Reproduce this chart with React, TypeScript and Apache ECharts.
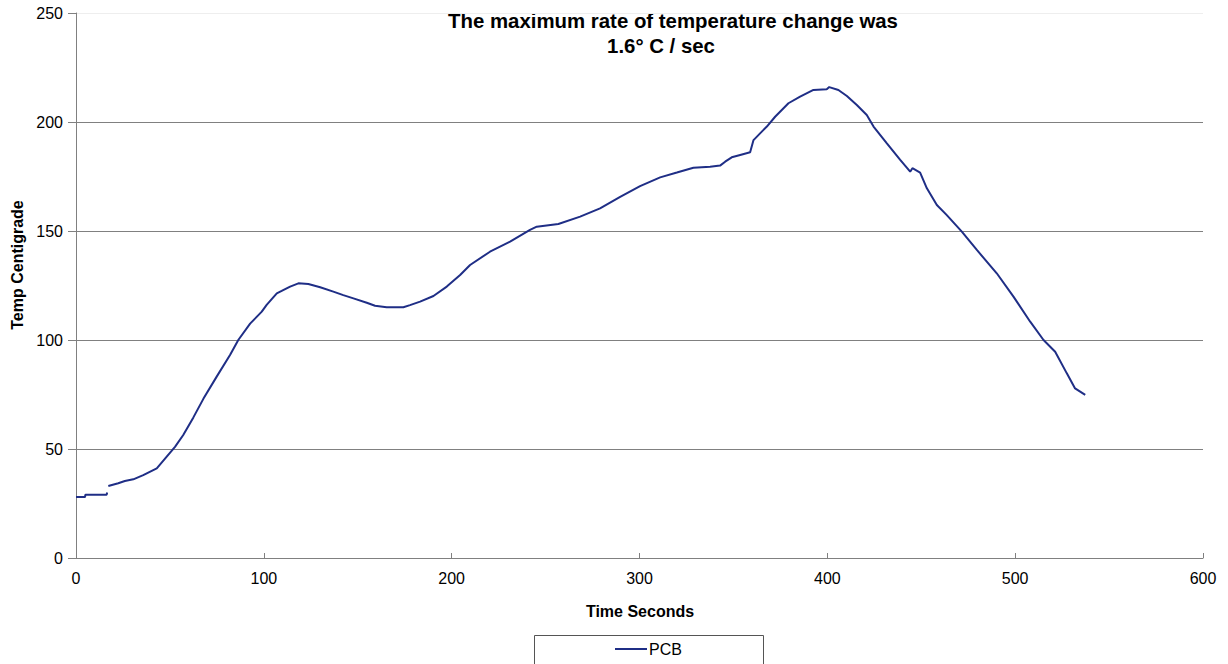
import React, { useEffect, useRef } from "react";
import * as echarts from "echarts";

const titleLines = ["The maximum rate of temperature change was", "1.6\u00b0 C / sec"];
const xAxisName = "Time Seconds";
const yAxisName = "Temp Centigrade";
const seriesName = "PCB";

const times: (number)[] = [
  0, 4.8, 5.0, 16.3, 16.6, 16.9, 17.2, 22.5, 26, 30.5, 35.8, 43, 48.3, 52.7, 57.1, 62.5,
  67.8, 74.9, 82, 86.4, 92.7, 98.9, 101.5, 106.9, 109.5, 114, 118.4, 123.7, 130, 137,
  142.3, 147.7, 154.8, 159.2, 165.4, 174.3, 177.8, 183.2, 190.3, 197.4, 204.5, 209.8,
  220.4, 231.1, 241.7, 245.3, 256.8, 268.4, 279, 289.7, 300.3, 311, 319.9, 328.7, 337.6,
  342.9, 345.6, 349.1, 353.6, 358.9, 360.7, 364.2, 367.8, 372.2, 379.3, 385.5, 392.6,
  399.7, 401, 405.9, 410.4, 415.7, 421, 424.6, 431.7, 438.8, 444.1, 445.3, 449.4, 453,
  458.3, 463.6, 471.6, 479.6, 490.2, 499.1, 508, 515.1, 521.3, 527.5, 531.9, 537.3,
];
const temps: (number | null)[] = [
  28, 28, 29, 29, 30, null, 33, 34.3, 35.3, 36.1, 38, 41.1, 46.5, 51, 56.4, 64.5,
  73, 83.2, 93.1, 100, 107.5, 113, 116.1, 121.4, 122.5, 124.5, 126, 125.7, 124.2, 122.2,
  120.6, 119.1, 117.1, 115.7, 115, 115, 116, 117.6, 120.2, 124.5, 129.8, 134.4,
  140.5, 145.1, 150.5, 152, 153.2, 156.6, 160.4, 165.7, 170.6, 174.6, 176.8, 179, 179.5,
  180, 181.8, 183.8, 184.9, 186.1, 191.7, 194.8, 197.9, 202.4, 208.6, 211.6, 214.7,
  215, 216, 214.7, 211.9, 207.8, 203.2, 197.9, 190.2, 182.6, 177.2, 178.8, 176.8, 169.6,
  161.9, 157.3, 149.7, 141.3, 130.6, 119.9, 108.4, 100, 94.6, 84.7, 77.8, 74.8,
];

const LINE_COLOR = "#1f2e86";
const FONT = "'Liberation Sans', Arial, sans-serif";

export default function App() {
  const ref = useRef<HTMLDivElement>(null);

  useEffect(() => {
    if (!ref.current) return;
    const chart = echarts.init(ref.current, undefined, { renderer: "svg" });
    const data = times.map((t, i) => [t, temps[i]]);
    chart.setOption({
      animation: false,
      textStyle: { fontFamily: FONT },
      grid: { left: 76, right: 25, top: 13, bottom: 106, containLabel: false },
      xAxis: {
        type: "value",
        min: 0,
        max: 600,
        interval: 100,
        axisLine: { show: true, onZero: false, lineStyle: { color: "#808080", width: 1 } },
        axisTick: { show: true, inside: true, length: 5, lineStyle: { color: "#808080" } },
        axisLabel: { color: "#000", fontSize: 16, fontFamily: FONT, margin: 12 },
        splitLine: { show: false },
      },
      yAxis: {
        type: "value",
        min: 0,
        max: 250,
        interval: 50,
        axisLine: { show: true, lineStyle: { color: "#808080", width: 1 } },
        axisTick: { show: true, inside: false, length: 8, lineStyle: { color: "#808080" } },
        axisLabel: { color: "#000", fontSize: 16, fontFamily: FONT, margin: 13 },
        splitLine: {
          show: true,
          lineStyle: {
            color: ["#808080", "#808080", "#808080", "#808080", "#808080", "#eeeeee"],
            width: 1,
          },
        },
      },
      legend: {
        show: true,
        left: 615,
        top: 641,
        icon: "rect",
        itemWidth: 32,
        itemHeight: 2,
        itemGap: 10,
        padding: 0,
        textStyle: { color: "#000", fontSize: 16, fontFamily: FONT, padding: [0, 0, 0, -3] },
        data: [{ name: seriesName, icon: "rect", itemStyle: { color: LINE_COLOR } }],
      },
      series: [
        {
          name: seriesName,
          type: "line",
          data,
          showSymbol: false,
          symbol: "none",
          connectNulls: false,
          lineStyle: { color: LINE_COLOR, width: 2 },
          itemStyle: { color: LINE_COLOR },
        },
      ],
      graphic: [
        {
          type: "text",
          x: 673,
          y: 21,
          style: {
            text: titleLines[0],
            fontSize: 20.4,
            fontWeight: "bold",
            fontFamily: FONT,
            fill: "#000",
            textAlign: "center",
            textVerticalAlign: "middle",
          },
        },
        {
          type: "text",
          x: 661,
          y: 46,
          style: {
            text: titleLines[1],
            fontSize: 20.4,
            fontWeight: "bold",
            fontFamily: FONT,
            fill: "#000",
            textAlign: "center",
            textVerticalAlign: "middle",
          },
        },
        {
          type: "text",
          x: 640,
          y: 611,
          style: {
            text: xAxisName,
            fontSize: 16,
            fontWeight: "bold",
            fontFamily: FONT,
            fill: "#000",
            textAlign: "center",
            textVerticalAlign: "middle",
          },
        },
        {
          type: "text",
          x: 17,
          y: 265,
          rotation: Math.PI / 2,
          style: {
            text: yAxisName,
            fontSize: 16,
            fontWeight: "bold",
            fontFamily: FONT,
            fill: "#000",
            textAlign: "center",
            textVerticalAlign: "middle",
          },
        },
        {
          type: "rect",
          shape: { x: 534.5, y: 635.5, width: 229, height: 40 },
          style: { fill: "none", stroke: "#555", lineWidth: 1 },
          z: -1,
        },
      ],
    });
    return () => chart.dispose();
  }, []);

  return <div ref={ref} style={{ width: 1228, height: 664, position: "absolute", left: 0, top: 0 }} />;
}
